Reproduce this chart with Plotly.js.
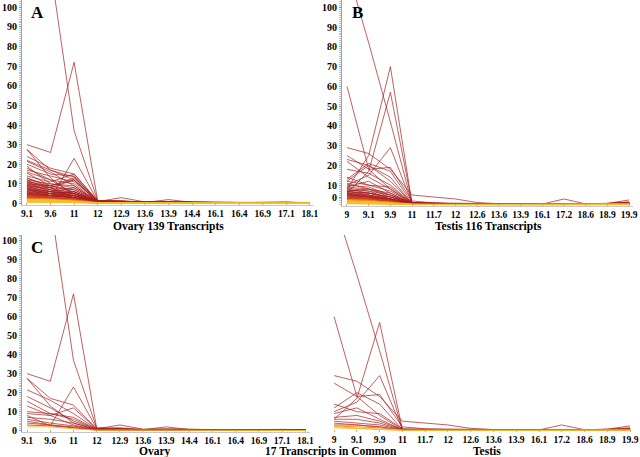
<!DOCTYPE html>
<html>
<head>
<meta charset="utf-8">
<script src="https://cdn.plot.ly/plotly-3.0.1.min.js"></script>
<style>html,body{margin:0;padding:0;background:#fff;}#chart{width:640px;height:457px;}</style>
</head>
<body>
<div id="chart"></div>
<script>
// Categories (developmental stages)
const ovaryStages = ["9.1","9.6","11","12","12.9","13.6","13.9","14.4","16.1","16.4","16.9","17.1","18.1"];
const testisStages = ["9","9.1","9.9","11","11.7","12","12.6","13.6","13.9","16.1","17.2","18.6","18.9","19.9"];
const yTicks = [0,10,20,30,40,50,60,70,80,90,100];

// Ovary transcripts shared with testis (panel C, also in A)
const ovaryCommon = [
 [30,26,72,1.2,1.5,0.6,0.8,0.6,0.6,0.5,0.6,0.7,0.4],
 [140,120,37,1.5,1.2,0.5,0.6,0.5,0.5,0.5,0.5,0.5,0.4],
 [27.5,13,4,0.6,1,0.4,0.5,0.4,0.4,0.4,0.4,0.4,0.3],
 [27.5,17,13.5,1,3,0.8,1,0.6,0.5,0.5,0.5,0.6,0.4],
 [21.5,16,9,0.8,0.8,0.5,2,0.6,0.5,0.6,0.5,0.5,0.4],
 [18,12,5,0.6,0.6,0.4,0.5,0.4,0.5,0.4,0.4,0.4,0.3],
 [15.5,9,7,0.7,0.8,0.4,0.6,0.5,0.4,0.5,0.5,0.6,0.3],
 [13,8,12,0.8,0.7,0.5,0.5,0.5,0.5,0.4,0.5,0.5,0.3],
 [8,2.5,23,1.2,1,0.6,0.6,0.5,0.5,0.5,0.6,0.6,0.4],
 [10,9,6,0.6,0.6,0.4,0.4,0.4,0.4,0.4,0.4,0.4,0.3],
 [9,8,3,0.5,0.5,0.3,0.4,0.3,0.4,0.3,0.3,0.4,0.2],
 [7,6,4,0.5,0.5,0.3,0.4,0.3,0.3,0.3,0.3,0.3,0.2],
 [6,4,2.5,0.4,0.5,0.3,0.3,0.3,0.3,0.3,0.3,0.3,0.2],
 [5,3,2,0.4,0.4,0.3,0.3,0.3,0.3,0.3,0.3,0.3,0.2],
 [4,3,1.5,0.3,0.4,0.2,0.3,0.2,0.3,0.2,0.2,0.3,0.2],
 [3,2.5,1.5,0.3,0.3,0.2,0.3,0.2,0.2,0.2,0.2,0.2,0.1],
 [2,2,1,0.2,0.3,0.2,0.2,0.2,0.2,0.2,0.2,0.2,0.1]
];

// Ovary-only transcripts (panel A in addition to the common ones)
const ovaryOnly = [
 [24,18,15,1.5,1,0.5,0.5,0.5,0.5,0.5,0.5,0.5,0.4],
 [22,17,12,1.2,0.8,0.5,0.6,0.5,0.5,0.5,0.4,0.5,0.4],
 [20,15,14,1,1,0.5,0.5,0.4,0.4,0.4,0.4,0.5,0.4],
 [19,10,8,1,0.9,0.5,0.5,0.5,0.4,0.5,0.5,0.5,0.4],
 [17,14,11,1.5,1.2,0.6,0.7,0.5,0.5,0.5,0.5,0.6,0.4],
 [16,12,10,1,0.8,0.5,0.6,0.5,0.5,0.5,0.5,0.5,0.4],
 [14,11,15,1.2,1,0.6,0.6,0.5,0.5,0.5,0.5,0.6,0.4],
 [13,9,12,1,0.9,0.5,0.6,0.5,0.5,0.5,0.5,0.5,0.4],
 [12,10,9,1,0.8,0.5,0.5,0.5,0.5,0.5,0.4,0.5,0.4],
 [12,7,6,0.8,0.7,0.5,0.5,0.5,0.4,0.4,0.4,0.5,0.3],
 [11.5,8,5,1,0.8,0.5,0.5,0.4,0.4,0.4,0.4,0.4,0.3],
 [11,9,13,1.5,1.2,0.6,0.7,0.6,0.5,0.5,0.5,0.6,0.4],
 [11,6,5,1,0.8,0.5,0.5,0.4,0.4,0.4,0.4,0.4,0.3],
 [10.5,8,7,1,0.8,0.5,0.5,0.5,0.4,0.4,0.5,0.5,0.3],
 [10,7,4,0.8,0.7,0.4,0.5,0.4,0.4,0.4,0.4,0.4,0.3],
 [10,6,8,1,0.8,0.5,0.5,0.5,0.4,0.5,0.4,0.5,0.3],
 [9.5,5,6,1,0.8,0.5,0.5,0.4,0.4,0.4,0.4,0.4,0.3],
 [9,7,5,1,0.8,0.5,0.5,0.4,0.5,0.4,0.4,0.5,0.3],
 [9,4,4,0.8,0.7,0.4,0.5,0.4,0.4,0.4,0.4,0.4,0.3],
 [8.5,6,5,1,0.8,0.5,0.5,0.4,0.4,0.4,0.4,0.4,0.3],
 [8,6,4,0.8,0.7,0.4,0.4,0.4,0.4,0.4,0.4,0.4,0.3],
 [8,5,6,1,0.8,0.5,0.5,0.5,0.4,0.4,0.4,0.5,0.3],
 [7.5,5,3,0.8,0.6,0.4,0.4,0.4,0.4,0.3,0.4,0.4,0.3],
 [7,5,4,0.8,0.7,0.4,0.4,0.4,0.4,0.4,0.4,0.4,0.3],
 [7,4,5,1,0.8,0.5,0.5,0.4,0.4,0.4,0.4,0.4,0.3],
 [6.5,5,3,0.6,0.6,0.4,0.4,0.3,0.3,0.3,0.3,0.4,0.2],
 [6,4,3,0.6,0.6,0.4,0.4,0.3,0.3,0.3,0.3,0.3,0.2],
 [6,5,4,0.8,0.7,0.4,0.4,0.4,0.4,0.4,0.4,0.4,0.3],
 [5.5,4,3,0.6,0.6,0.3,0.4,0.3,0.3,0.3,0.3,0.3,0.2],
 [5.5,3,4,0.8,0.7,0.4,0.4,0.4,0.3,0.3,0.4,0.4,0.3],
 [5,4,3,0.6,0.5,0.3,0.4,0.3,0.3,0.3,0.3,0.3,0.2],
 [5,3,2,0.5,0.5,0.3,0.3,0.3,0.3,0.3,0.3,0.3,0.2],
 [4.5,4,3,0.6,0.5,0.3,0.4,0.3,0.3,0.3,0.3,0.3,0.2],
 [4.5,3,2,0.5,0.5,0.3,0.3,0.3,0.3,0.3,0.3,0.3,0.2],
 [4,3,2.5,0.5,0.5,0.3,0.3,0.3,0.3,0.3,0.3,0.3,0.2],
 [4,3.5,2,0.5,0.4,0.3,0.3,0.3,0.3,0.3,0.3,0.3,0.2],
 [3.5,3,2,0.5,0.4,0.3,0.3,0.3,0.3,0.2,0.3,0.3,0.2],
 [3.5,2.5,2,0.4,0.4,0.3,0.3,0.2,0.3,0.2,0.3,0.3,0.2],
 [3,2.5,2,0.4,0.4,0.3,0.3,0.2,0.2,0.2,0.2,0.3,0.2],
 [3,2,1.5,0.4,0.4,0.2,0.3,0.2,0.2,0.2,0.2,0.2,0.2],
 [2.8,2.2,1.8,0.4,0.3,0.2,0.3,0.2,0.2,0.2,0.2,0.2,0.1],
 [2.5,2,1.5,0.3,0.3,0.2,0.2,0.2,0.2,0.2,0.2,0.2,0.1],
 [2.5,2.2,1.5,0.3,0.3,0.2,0.2,0.2,0.2,0.2,0.2,0.2,0.1],
 [2.2,1.8,1.2,0.3,0.3,0.2,0.2,0.2,0.2,0.2,0.2,0.2,0.1],
 [2,1.5,1.2,0.3,0.3,0.2,0.2,0.2,0.2,0.2,0.2,0.2,0.1],
 [2,1.8,1,0.3,0.2,0.2,0.2,0.2,0.2,0.1,0.2,0.2,0.1],
 [1.8,1.5,1,0.3,0.2,0.2,0.2,0.1,0.2,0.1,0.1,0.2,0.1],
 [1.5,1.2,0.8,0.2,0.2,0.1,0.2,0.1,0.1,0.1,0.1,0.1,0.1],
 [1.5,1.3,1,0.2,0.2,0.1,0.2,0.1,0.1,0.1,0.1,0.1,0.1],
 [1.2,1,0.8,0.2,0.2,0.1,0.1,0.1,0.1,0.1,0.1,0.1,0.1],
 [1,0.8,0.6,0.2,0.1,0.1,0.1,0.1,0.1,0.1,0.1,0.1,0.1],
 [0.8,0.7,0.5,0.1,0.1,0.1,0.1,0.1,0.1,0.1,0.1,0.1,0.1],
 [0.6,0.5,0.4,0.1,0.1,0.1,0.1,0.1,0.1,0.1,0.1,0.1,0.1]
];

// Testis transcripts shared with ovary (panel D, also in B)
const testisCommon = [
 [120,82,42,0.5,0.5,0.4,0.4,0.3,0.3,0.3,0.3,0.3,0.3,0.5],
 [60,18,8,0.5,0.4,0.3,0.3,0.3,0.3,0.3,0.3,0.3,0.4,0.6],
 [6,17,57,0.6,0.5,0.4,0.4,0.4,0.3,0.3,0.4,0.3,0.5,1],
 [10,15,29,0.8,0.6,0.5,0.4,0.4,0.4,0.3,0.4,0.3,0.6,1.2],
 [29,26,18,5,4,3,1.2,0.6,0.6,0.4,3,0.5,0.8,2.5],
 [25,18,19,2,1,0.8,0.6,0.5,0.4,0.3,0.4,0.3,0.8,1.5],
 [14,10,9,1,0.8,0.5,0.4,0.4,0.4,0.3,0.3,0.3,0.6,1],
 [12,20,14,0.6,0.5,0.4,0.4,0.4,0.4,0.3,0.3,0.3,0.5,0.8],
 [9,12,6,0.5,0.4,0.4,0.3,0.3,0.3,0.3,0.3,0.3,0.4,0.7],
 [7,8,5,0.5,0.4,0.3,0.3,0.3,0.3,0.2,0.3,0.3,0.4,0.6],
 [6,6,4,0.4,0.4,0.3,0.3,0.3,0.3,0.2,0.3,0.2,0.4,0.6],
 [5,4,3,0.4,0.3,0.3,0.3,0.2,0.3,0.2,0.2,0.2,0.3,0.5],
 [4,3,2,0.3,0.3,0.2,0.3,0.2,0.2,0.2,0.2,0.2,0.3,0.4],
 [3,3,2,0.3,0.3,0.2,0.2,0.2,0.2,0.2,0.2,0.2,0.3,0.4],
 [2.5,2,1.5,0.2,0.2,0.2,0.2,0.2,0.2,0.1,0.2,0.2,0.2,0.3],
 [2,1.5,1,0.2,0.2,0.2,0.2,0.1,0.2,0.1,0.2,0.1,0.2,0.3],
 [1.5,1,0.8,0.2,0.2,0.1,0.2,0.1,0.1,0.1,0.1,0.1,0.2,0.3]
];

// Testis-only transcripts (panel B in addition to the common ones)
const testisOnly = [
 [8,25,70,0.5,0.5,0.4,0.4,0.3,0.3,0.3,0.3,0.3,0.4,0.6],
 [23,20,12,1,0.8,0.6,0.5,0.4,0.4,0.3,0.4,0.4,0.6,1.2],
 [22,14,8,1,0.8,0.6,0.5,0.4,0.4,0.3,0.4,0.4,0.6,1],
 [18,16,10,1,0.8,0.6,0.5,0.4,0.4,0.3,0.4,0.4,0.6,1],
 [13,21,17,1,0.8,0.6,0.5,0.4,0.4,0.3,0.4,0.4,0.7,1.3],
 [12,10,7,1,0.8,0.5,0.5,0.4,0.4,0.3,0.4,0.4,0.6,1],
 [11,8,6,0.8,0.7,0.5,0.4,0.4,0.4,0.3,0.4,0.4,0.6,1],
 [10,9,5,1,0.8,0.5,0.5,0.4,0.4,0.3,0.4,0.4,0.6,1.1],
 [9,8,4,0.8,0.7,0.5,0.4,0.4,0.4,0.3,0.3,0.4,0.5,0.9],
 [8.5,7,5,1,0.8,0.5,0.5,0.4,0.4,0.3,0.4,0.4,0.6,1],
 [8,6,4,0.8,0.7,0.5,0.4,0.4,0.3,0.3,0.3,0.4,0.5,0.9],
 [7.5,7,3,0.6,0.6,0.4,0.4,0.3,0.3,0.3,0.3,0.3,0.5,0.8],
 [7,6,4,0.8,0.7,0.5,0.4,0.4,0.3,0.3,0.3,0.4,0.5,0.9],
 [7,5,3,0.6,0.6,0.4,0.4,0.3,0.3,0.3,0.3,0.3,0.5,0.8],
 [6.5,6,3,0.6,0.6,0.4,0.4,0.3,0.3,0.3,0.3,0.3,0.5,0.8],
 [6,5,3,0.6,0.5,0.4,0.4,0.3,0.3,0.3,0.3,0.3,0.4,0.8],
 [6,4.5,2.5,0.5,0.5,0.4,0.3,0.3,0.3,0.2,0.3,0.3,0.4,0.7],
 [5.5,5,3,0.6,0.5,0.4,0.4,0.3,0.3,0.3,0.3,0.3,0.4,0.8],
 [5.5,4,2,0.5,0.5,0.3,0.3,0.3,0.3,0.2,0.3,0.3,0.4,0.7],
 [5,4.5,2.5,0.5,0.5,0.3,0.3,0.3,0.3,0.2,0.3,0.3,0.4,0.7],
 [5,4,2,0.5,0.4,0.3,0.3,0.3,0.3,0.2,0.3,0.3,0.4,0.6],
 [4.5,4,2,0.4,0.4,0.3,0.3,0.3,0.2,0.2,0.3,0.3,0.4,0.6],
 [4.5,3.5,2,0.4,0.4,0.3,0.3,0.2,0.2,0.2,0.2,0.3,0.3,0.6],
 [4,3.5,2,0.4,0.4,0.3,0.3,0.2,0.2,0.2,0.2,0.2,0.3,0.5],
 [4,3,1.5,0.4,0.4,0.3,0.3,0.2,0.2,0.2,0.2,0.2,0.3,0.5],
 [3.5,3,1.5,0.3,0.3,0.3,0.2,0.2,0.2,0.2,0.2,0.2,0.3,0.5],
 [3.5,3.2,1.8,0.4,0.3,0.3,0.3,0.2,0.2,0.2,0.2,0.2,0.3,0.5],
 [3,2.8,1.5,0.3,0.3,0.2,0.2,0.2,0.2,0.2,0.2,0.2,0.3,0.4],
 [3,2.5,1.2,0.3,0.3,0.2,0.2,0.2,0.2,0.2,0.2,0.2,0.3,0.4],
 [2.8,2.5,1.2,0.3,0.3,0.2,0.2,0.2,0.2,0.2,0.2,0.2,0.3,0.4],
 [2.5,2.2,1.2,0.3,0.2,0.2,0.2,0.2,0.2,0.1,0.2,0.2,0.2,0.4],
 [2.5,2,1,0.3,0.2,0.2,0.2,0.2,0.2,0.1,0.2,0.2,0.2,0.4],
 [2.2,2,1,0.2,0.2,0.2,0.2,0.1,0.2,0.1,0.2,0.2,0.2,0.3],
 [2,1.8,1,0.2,0.2,0.2,0.2,0.1,0.1,0.1,0.1,0.2,0.2,0.3],
 [2,1.6,0.9,0.2,0.2,0.2,0.1,0.1,0.1,0.1,0.1,0.1,0.2,0.3],
 [1.8,1.5,0.8,0.2,0.2,0.1,0.1,0.1,0.1,0.1,0.1,0.1,0.2,0.3],
 [1.5,1.4,0.8,0.2,0.2,0.1,0.1,0.1,0.1,0.1,0.1,0.1,0.2,0.2],
 [1.5,1.2,0.7,0.2,0.1,0.1,0.1,0.1,0.1,0.1,0.1,0.1,0.1,0.2],
 [1.2,1,0.6,0.2,0.1,0.1,0.1,0.1,0.1,0.1,0.1,0.1,0.1,0.2],
 [1,0.9,0.5,0.1,0.1,0.1,0.1,0.1,0.1,0.1,0.1,0.1,0.1,0.2],
 [0.8,0.7,0.4,0.1,0.1,0.1,0.1,0.1,0.1,0.1,0.1,0.1,0.1,0.1],
 [0.6,0.5,0.3,0.1,0.1,0.1,0.1,0.1,0.1,0.1,0.1,0.1,0.1,0.1]
];

// ---------- drawing ----------
const W = 640, H = 457;
const px = x => x / W;
const py = y => 1 - y / H;

function lineColor(v) {
  const m = Math.max(...v);
  if (m >= 4.5) return 'rgba(165,30,30,0.7)';
  if (m >= 3) return 'rgba(210,60,25,0.85)';
  if (m >= 2.2) return 'rgba(232,130,30,0.9)';
  return 'rgba(243,190,45,0.95)';
}

function makeTraces(rows, cats, xa, ya) {
  const sorted = rows.slice().sort((a, b) => Math.max(...b) - Math.max(...a));
  return sorted.map(v => ({
    type: 'scatter', mode: 'lines', x: cats, y: v,
    xaxis: xa, yaxis: ya,
    line: { color: lineColor(v), width: 1 },
    hoverinfo: 'skip', showlegend: false
  }));
}

const traces = [].concat(
  makeTraces(ovaryCommon.concat(ovaryOnly), ovaryStages, 'x', 'y'),
  makeTraces(testisCommon.concat(testisOnly), testisStages, 'x2', 'y2'),
  makeTraces(ovaryCommon, ovaryStages, 'x3', 'y3'),
  makeTraces(testisCommon, testisStages, 'x4', 'y4')
);

const tickFont = { family: 'Liberation Serif, Times New Roman, serif', size: 10, color: '#000', weight: 'bold' };
const xTickFont = { family: 'Liberation Serif, Times New Roman, serif', size: 9.5, color: '#000', weight: 'bold' };

function xAxis(cats, d0, d1, r0, r1, anchor, showline) {
  return {
    type: 'category', domain: [px(d0), px(d1)], range: [r0, r1], anchor: anchor,
    tickmode: 'array', tickvals: cats, ticktext: cats,
    showgrid: false, zeroline: false,
    showline: showline, linecolor: '#c8c8c8', linewidth: 1,
    ticks: 'inside', ticklen: 2, tickcolor: '#d8b060',
    tickfont: xTickFont, fixedrange: true
  };
}
function yAxis(top, bottom, r0, r1, anchor, showlabels, tickvals, ticktext) {
  return {
    domain: [py(bottom), py(top)], range: [r0, r1], anchor: anchor,
    tickmode: 'array', tickvals: tickvals || yTicks, ticktext: ticktext || yTicks.map(String),
    showticklabels: showlabels, showgrid: false, zeroline: false,
    showline: showlabels, linecolor: '#a0a0a0', linewidth: 1,
    ticks: showlabels ? 'outside' : '', ticklen: 2, tickcolor: '#909090',
    minor: showlabels ? { tickmode: 'linear', dtick: 1, ticks: 'outside', ticklen: 2, tickcolor: '#c0c0c0' } : undefined,
    tickfont: tickFont, fixedrange: true
  };
}

const serifBold = (size) => ({ family: 'Liberation Serif, Times New Roman, serif', size: size, color: '#000', weight: 'bold' });
function label(text, x, y, size, xanchor) {
  return { text: text, x: px(x), y: py(y), xref: 'paper', yref: 'paper',
           xanchor: xanchor || 'center', yanchor: 'middle', showarrow: false, font: serifBold(size) };
}

const layout = {
  width: W, height: H,
  margin: { l: 0, r: 0, t: 0, b: 0 },
  paper_bgcolor: '#fff', plot_bgcolor: '#fff',
  showlegend: false,
  xaxis:  xAxis(ovaryStages, 22, 313, -0.21, 12.13, 'y', true),
  yaxis:  yAxis(0, 205, -0.76, 103.7, 'x', true),
  xaxis2: xAxis(testisStages, 342, 633, -0.23, 13.18, 'y2', true),
  yaxis2: yAxis(0, 205.5, -0.3, 103.7, 'x2', true, [3.5,10,20,30,40,50,60,70,80,90,100], yTicks.map(String)),
  xaxis3: xAxis(ovaryStages, 22, 310, -0.22, 12.2, 'y3', true),
  yaxis3: yAxis(235, 432, -0.7, 103, 'x3', true),
  xaxis4: xAxis(testisStages, 330, 636, -0.18, 13.26, 'y4', false),
  yaxis4: yAxis(235, 432, -0.7, 103, 'x4', false),
  annotations: [
    label('A', 29, 12, 17, 'left'),
    label('B', 350, 12, 17, 'left'),
    label('C', 29, 247, 17, 'left'),
    label('Ovary 139 Transcripts', 168, 226.5, 11.5),
    label('Testis 116 Transcripts', 488, 226.5, 11.5),
    label('Ovary', 155, 451, 11.5),
    label('17 Transcripts in Common', 331, 451, 11.5),
    label('Testis', 487, 451, 11.5)
  ]
};

Plotly.newPlot('chart', traces, layout, { staticPlot: true, displayModeBar: false });
</script>
</body>
</html>
